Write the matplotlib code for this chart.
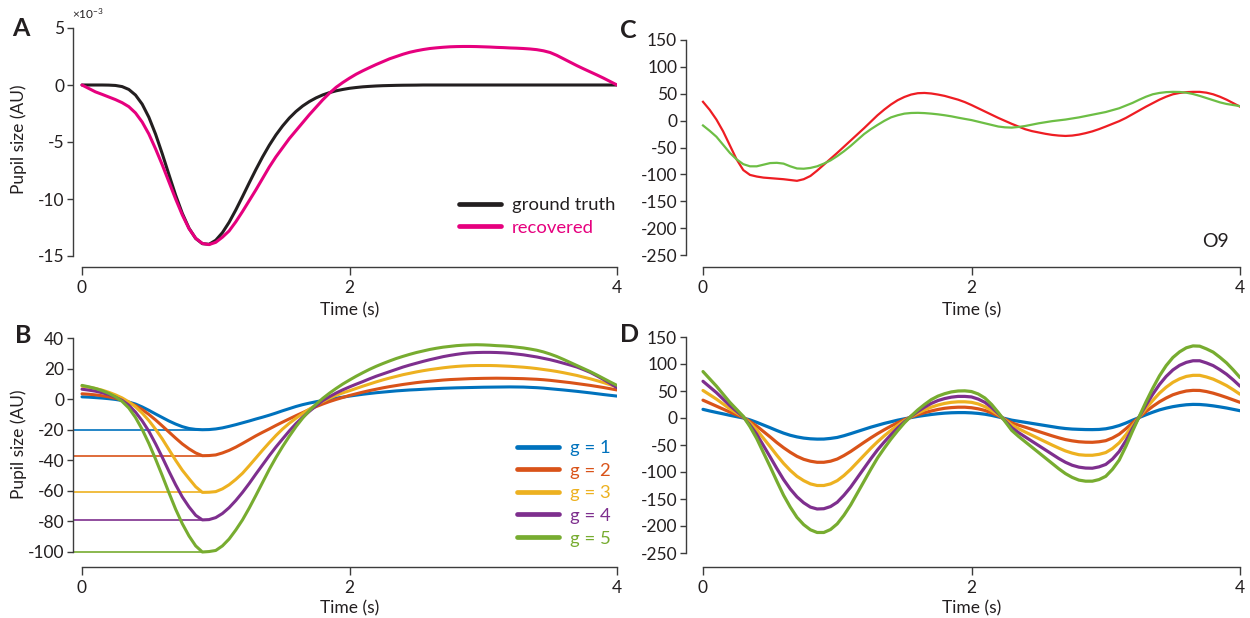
import numpy as np
import matplotlib
matplotlib.use("Agg")
import matplotlib.pyplot as plt

# ---------------------------------------------------------------- data
# common sampling grid (s), 50 ms steps
time_s = np.linspace(0, 4, 81)

# A: pupil response kernel, values in units of 1e-3 AU
ground_truth = [0, 0, 0, 0, -0.01, -0.04, -0.14, -0.39, -0.88, -1.68,
                -2.83, -4.31, -6.03, -7.86, -9.66, -11.26, -12.56, -13.46, -13.92, -13.97,
                -13.62, -12.95, -12.04, -10.96, -9.79, -8.59, -7.42, -6.31, -5.29, -4.38,
                -3.59, -2.90, -2.32, -1.84, -1.45, -1.13, -0.87, -0.67, -0.51, -0.39,
                -0.29, -0.22, -0.16, -0.12, -0.085, -0.06, -0.045, -0.03, -0.02, -0.015,
                -0.01, 0, 0, 0, 0, 0, 0, 0, 0, 0,
                0, 0, 0, 0, 0, 0, 0, 0, 0, 0,
                0, 0, 0, 0, 0, 0, 0, 0, 0, 0,
                0]
recovered = [0, -0.3, -0.6, -0.82, -1.05, -1.28, -1.55, -1.9, -2.45, -3.25,
             -4.3, -5.6, -7.0, -8.5, -10.0, -11.4, -12.6, -13.45, -13.9, -14.0,
             -13.8, -13.35, -12.8, -12.0, -11.1, -10.15, -9.2, -8.2, -7.2, -6.3,
             -5.5, -4.7, -4.0, -3.3, -2.6, -1.95, -1.3, -0.72, -0.2, 0.22,
             0.6, 0.95, 1.25, 1.53, 1.8, 2.05, 2.3, 2.5, 2.7, 2.87,
             3.0, 3.11, 3.2, 3.26, 3.31, 3.35, 3.37, 3.38, 3.38, 3.37,
             3.35, 3.33, 3.3, 3.28, 3.25, 3.23, 3.2, 3.16, 3.1, 3.0,
             2.85, 2.6, 2.3, 2.0, 1.7, 1.42, 1.15, 0.88, 0.6, 0.3,
             0.0]

# B: simulated responses for gain g = 1..5
gain_labels = ["g = 1", "g = 2", "g = 3", "g = 4", "g = 5"]
b_g1 = [1.5, 1.3, 1.0, 0.7, 0.3, -0.2, -0.9, -1.9, -3.2, -5.1,
        -7.3, -9.7, -12.0, -14.3, -16.3, -18.0, -19.2, -19.8, -20.0, -19.9,
        -19.5, -18.8, -17.8, -16.7, -15.5, -14.3, -13.0, -11.8, -10.5, -9.1,
        -7.6, -6.2, -4.8, -3.6, -2.6, -1.7, -0.9, -0.1, 0.6, 1.3,
        2.0, 2.6, 3.2, 3.7, 4.2, 4.6, 5.0, 5.4, 5.7, 6.0,
        6.2, 6.45, 6.7, 6.9, 7.1, 7.25, 7.4, 7.5, 7.6, 7.7,
        7.8, 7.85, 7.9, 7.95, 8.0, 7.95, 7.9, 7.7, 7.5, 7.2,
        6.8, 6.4, 6.0, 5.55, 5.1, 4.6, 4.1, 3.55, 3.0, 2.5,
        2.0]
b_g2 = [3.5, 3.2, 2.8, 2.2, 1.5, 0.6, -0.6, -2.2, -4.2, -6.8,
        -10.0, -13.6, -17.5, -21.5, -25.5, -29.3, -32.5, -35.2, -37.0, -36.9,
        -36.5, -35.2, -33.5, -31.4, -29.0, -26.5, -24.0, -21.7, -19.5, -17.2,
        -15.0, -12.9, -10.8, -8.8, -6.8, -4.9, -3.2, -1.6, -0.2, 1.1,
        2.4, 3.5, 4.6, 5.6, 6.5, 7.4, 8.2, 8.9, 9.6, 10.2,
        10.8, 11.3, 11.7, 12.1, 12.5, 12.8, 13.0, 13.2, 13.4, 13.5,
        13.6, 13.65, 13.7, 13.65, 13.6, 13.5, 13.4, 13.2, 13.0, 12.7,
        12.3, 11.8, 11.3, 10.8, 10.2, 9.6, 9.0, 8.3, 7.6, 6.8,
        6.0]
b_g3 = [8.5, 7.8, 7.0, 5.9, 4.5, 2.8, 0.8, -1.8, -5.0, -9.1,
        -14.0, -19.7, -26.0, -33.0, -40.0, -46.5, -52.0, -57.3, -61.0, -60.9,
        -60.5, -58.7, -56.0, -52.5, -48.5, -43.6, -38.5, -33.4, -28.5, -23.8,
        -19.5, -15.8, -12.5, -9.4, -6.5, -3.9, -1.5, 0.6, 2.5, 4.1,
        5.5, 7.0, 8.5, 9.9, 11.3, 12.6, 13.8, 14.9, 16.0, 16.9,
        17.8, 18.6, 19.3, 19.9, 20.5, 21.0, 21.4, 21.7, 21.9, 22.0,
        22.0, 22.0, 21.9, 21.7, 21.5, 21.2, 20.9, 20.5, 20.0, 19.4,
        18.8, 18.1, 17.3, 16.4, 15.5, 14.4, 13.3, 12.1, 10.8, 9.4,
        8.0]
b_g4 = [6.5, 5.9, 5.2, 4.2, 3.0, 1.3, -0.8, -4.0, -8.5, -14.2,
        -21.0, -29.2, -38.0, -47.2, -56.0, -64.0, -70.5, -76.0, -79.0, -78.8,
        -77.5, -74.8, -71.0, -66.3, -61.0, -55.2, -49.0, -43.0, -37.0, -31.3,
        -26.0, -20.8, -16.0, -11.8, -8.0, -4.4, -1.0, 1.6, 4.0, 6.1,
        8.0, 9.8, 11.5, 13.3, 15.0, 16.5, 18.0, 19.5, 21.0, 22.3,
        23.5, 24.7, 25.8, 26.8, 27.8, 28.6, 29.3, 29.9, 30.3, 30.5,
        30.6, 30.6, 30.5, 30.3, 30.0, 29.5, 29.0, 28.3, 27.6, 26.7,
        25.8, 24.7, 23.5, 22.3, 21.0, 19.3, 17.5, 15.2, 12.8, 10.2,
        7.5]
b_g5 = [9.0, 8.1, 7.0, 5.6, 3.8, 1.5, -1.5, -5.8, -12.0, -19.8,
        -29.0, -39.2, -50.0, -61.2, -72.0, -81.5, -89.5, -96.0, -100.0, -99.7,
        -99.0, -96.0, -91.5, -85.6, -79.0, -71.3, -63.0, -54.5, -46.0, -38.2,
        -31.0, -24.3, -18.0, -12.4, -7.5, -3.3, 0.5, 3.9, 7.0, 9.9,
        12.5, 15.0, 17.3, 19.5, 21.5, 23.3, 25.0, 26.6, 28.0, 29.3,
        30.5, 31.5, 32.5, 33.3, 34.0, 34.5, 35.0, 35.3, 35.5, 35.6,
        35.5, 35.3, 35.0, 34.8, 34.5, 34.0, 33.5, 32.8, 32.0, 30.9,
        29.5, 27.9, 26.0, 24.0, 22.0, 20.0, 18.0, 15.8, 13.5, 11.2,
        9.0]

# C: channel O9, two conditions
c_red = [35, 20, 2, -20, -46, -72, -92, -101, -104, -106,
         -107, -108, -109, -110.5, -112, -109, -103, -93, -82, -71,
         -60, -48.5, -37, -25.5, -14, -2, 10, 20.5, 30, 38,
         44, 48.5, 51, 51.5, 50.5, 48.5, 46, 42.5, 39, 34.5,
         29, 23, 17, 11, 5, -0.5, -6, -11, -16, -19.5,
         -22, -24.5, -26.5, -27.8, -28.5, -27.8, -26, -23.3, -20, -15.8,
         -11, -6, -1, 5, 12, 19, 26, 32.5, 39, 44.5,
         49, 51.5, 53, 53.5, 53.5, 52, 49, 44.5, 39, 32.5,
         26]
c_green = [-9, -19, -30, -45, -60, -72, -81, -85, -85, -82,
           -79, -78.5, -80, -85, -89, -89.5, -88, -85, -80, -74,
           -66, -57, -47, -36, -25, -16, -8, -0.5, 6, 10,
           13, 14.2, 14.5, 14, 13, 11.7, 10, 8, 5.5, 3.2,
           1, -2, -5, -8, -11, -12.5, -13, -11.8, -10, -7.5,
           -5, -3, -1, 0.5, 2, 4, 6, 8.5, 11, 13.5,
           16, 19.5, 23, 28, 33, 39, 44.5, 49, 51.5, 53,
           53.5, 53.3, 52, 49.5, 46, 42, 38, 34, 31, 29,
           27]

# D: responses for g = 1..5
d_g1 = [16, 13, 10.3, 7.7, 5, 2.5, 0, -3.5, -8, -13,
        -18, -23.2, -28, -32, -35, -37.2, -38.5, -39.1, -39, -37.8,
        -36, -32.8, -29, -25, -21, -17, -13.5, -10, -7, -4,
        -1.5, 0.8, 3, 4.8, 6.5, 7.9, 9, 9.7, 10, 10,
        9.5, 8.5, 7, 4.8, 2, -1, -4, -6, -8, -10,
        -12, -14, -16, -18, -19.5, -20.5, -21, -21.4, -21.5, -21.2,
        -20, -17.5, -14, -9.3, -4, 1, 6, 10.7, 15, 18.3,
        21, 23, 24.5, 25.2, 25, 24, 22.5, 20.6, 18.5, 16,
        13.5]
d_g2 = [33, 27.5, 22, 16.5, 11, 6, 1, -6.5, -15, -25,
        -35, -45.5, -55, -63.5, -71, -76.5, -80, -82, -82, -80,
        -76, -69.5, -62, -53.5, -45, -36.8, -29, -21.8, -15, -8.7,
        -3, 1.7, 6, 9.8, 13, 15.8, 18, 19.3, 20, 20,
        19, 17, 14, 9.5, 4, -2.5, -9, -13.2, -17, -21,
        -25, -29, -33, -36.7, -40, -42.3, -44, -44.8, -45, -44,
        -42, -37, -30, -20, -9, 1.5, 12, 21.5, 30, 37,
        43, 47, 50, 51.2, 51, 49, 46, 42.2, 38, 33.5,
        29]
d_g3 = [51, 43, 35, 26, 17, 9.5, 2, -9.5, -22, -37.5,
        -53, -69, -84, -97, -108, -116, -122, -125, -125, -122,
        -116, -106.5, -95, -82, -69, -56, -44, -33, -23, -13.7,
        -5, 2.3, 9, 15, 20, 24, 27, 29, 30, 30,
        29, 26, 21, 14, 6, -3.5, -13, -19.7, -26, -32,
        -38, -44, -50, -55.7, -61, -65, -68, -69, -69, -67.3,
        -64, -56.5, -46, -31, -14, 2, 18, 32.5, 46, 57,
        66, 72.5, 77, 79, 79, 76, 72, 66.3, 60, 52.3,
        44]
d_g4 = [68, 57.5, 47, 35, 23, 12.5, 2, -13, -30, -51,
        -72, -93.5, -114, -131.5, -146, -157, -165, -168.5, -168, -164,
        -156, -143, -128, -110.5, -93, -75.5, -59, -44.5, -31, -18.5,
        -7, 3, 12, 20, 27, 32.3, 36, 38.6, 40, 40,
        39, 35, 29, 19.5, 8, -5, -18, -27, -35, -43,
        -51, -59, -67, -75, -82, -87.5, -91, -92.7, -93, -90.5,
        -86, -76, -62, -42, -19, 2.5, 24, 44, 62, 77,
        89, 97.5, 103, 106, 106, 102, 97, 89.5, 81, 70.5,
        59]
d_g5 = [86, 72.5, 59, 44, 29, 16, 3, -16, -38, -64,
        -90, -117, -143, -165, -184, -197.5, -207, -212, -212, -206.5,
        -196, -180, -161, -139, -117, -95, -74, -56, -39, -23.5,
        -9, 3.5, 15, 25, 34, 40.5, 45, 48.3, 50, 50.3,
        49, 44.5, 37, 25, 10, -6.5, -23, -34, -44, -54,
        -64, -74, -84, -94, -103, -110, -115, -117, -117, -114,
        -108, -95, -78, -52.5, -24, 3, 30, 55, 78, 97,
        112, 122.5, 130, 133.5, 133, 128, 122, 112.5, 102, 89,
        75]

time_ticks = [0, 2, 4]
a_yticks = [-15, -10, -5, 0, 5]
b_yticks = [-100, -80, -60, -40, -20, 0, 20, 40]
cd_yticks = [-250, -200, -150, -100, -50, 0, 50, 100, 150]

# ---------------------------------------------------------------- style
INK = "#231F20"
SPINE = "#3C3C3C"
GAIN_COLORS = ["#0072BD", "#D95319", "#EDB120", "#7E2F8E", "#77AC30"]
GT_COLOR = "#231F20"
REC_COLOR = "#E6007E"
C_RED = "#EE1D23"
C_GREEN = "#6DBE45"

TICK_FS = 12.5
LABEL_FS = 12.5
LEGEND_FS = 13.3

plt.rcParams.update({
    "font.family": ["Lato", "DejaVu Sans"],
    "font.size": TICK_FS,
    "text.color": INK,
    "axes.labelcolor": INK,
    "xtick.color": SPINE,
    "ytick.color": SPINE,
    "xtick.labelcolor": INK,
    "ytick.labelcolor": INK,
    "axes.edgecolor": SPINE,
    "axes.linewidth": 1.0,
    "axes.unicode_minus": False,
    "mathtext.fontset": "custom",
    "mathtext.rm": "Lato",
    "mathtext.it": "Lato:italic",
    "mathtext.bf": "Lato:bold",
})

W, H = 1250, 618
fig = plt.figure(figsize=(W / 100, H / 100), dpi=100)


def add_panel(left, top, right, bottom):
    """Axes placed by pixel edges (origin at top-left of the figure)."""
    return fig.add_axes([left / W, 1 - bottom / H, (right - left) / W, (bottom - top) / H])


def frame(ax, xr, yr, yticks, gap_x, gap_y):
    """Detached spines: leave gap_x / gap_y pixels between the data range and the axis lines."""
    w_px, h_px = ax.bbox.width, ax.bbox.height
    sx = (xr[1] - xr[0]) / (1 - gap_x / w_px)
    sy = (yr[1] - yr[0]) / (1 - gap_y / h_px)
    ax.set_xlim(xr[1] - sx, xr[1])
    ax.set_ylim(yr[1] - sy, yr[1])
    ax.spines[["top", "right"]].set_visible(False)
    ax.spines["bottom"].set_bounds(*xr)
    ax.spines["left"].set_bounds(*yr)
    ax.set_xticks(time_ticks)
    ax.set_yticks(yticks)
    ax.tick_params(axis="x", direction="out", length=5.5, width=1.0, pad=4, labelsize=TICK_FS)
    ax.tick_params(axis="y", direction="out", length=4.3, width=1.0, pad=2, labelsize=TICK_FS)
    ax.patch.set_visible(False)


def xlabel_at(ax, x_px, top_px):
    ax.set_xlabel("Time (s)", fontsize=LABEL_FS)
    ax.xaxis.set_label_coords(x_px / W, 1 - top_px / H, transform=fig.transFigure)


def ylabel_at(ax, right_px, mid_px):
    ax.set_ylabel("Pupil size (AU)", fontsize=LABEL_FS)
    ax.yaxis.set_label_coords(right_px / W, 1 - mid_px / H, transform=fig.transFigure)


def legend_at(ax, handles, labels, left_px, top_px):
    leg = ax.legend(handles, labels, loc="upper left",
                    bbox_to_anchor=(left_px / W, 1 - top_px / H),
                    bbox_transform=fig.transFigure, frameon=False,
                    handlelength=2.3, handletextpad=0.55, labelspacing=0.36,
                    borderpad=0, borderaxespad=0, fontsize=LEGEND_FS,
                    labelcolor="linecolor")
    for h in leg.legend_handles:
        h.set_linewidth(3.4)
        h.set_solid_capstyle("round")
    return leg


# ---------------------------------------------------------------- panel A
axA = add_panel(73, 28, 617, 267)
frame(axA, (0, 4), (-15, 5), a_yticks, 9, 11)
lA1, = axA.plot(time_s, ground_truth, color=GT_COLOR, lw=2.2, solid_capstyle="round")
lA2, = axA.plot(time_s, recovered, color=REC_COLOR, lw=2.2, solid_capstyle="round")
legend_at(axA, [lA1, lA2], ["ground truth", "recovered"], 459, 197)
ylabel_at(axA, 27, 139)
xlabel_at(axA, 350, 302)
fig.text(72 / W, 1 - 19 / H, r"$\times10^{-3}$", fontsize=8.5, ha="left", va="baseline")

# ---------------------------------------------------------------- panel B
axB = add_panel(73, 338, 617, 567)
frame(axB, (0, 4), (-100, 40), b_yticks, 9, 15)
x0B = axB.get_xlim()[0]
b_lines = []
for vals, col in zip([b_g1, b_g2, b_g3, b_g4, b_g5], GAIN_COLORS):
    vals = np.asarray(vals)
    i_min = int(np.argmin(vals))
    axB.hlines(vals[i_min], x0B, time_s[i_min], color=col, lw=1.2)
    ln, = axB.plot(time_s, vals, color=col, lw=2.2, solid_capstyle="round")
    b_lines.append(ln)
legend_at(axB, b_lines, gain_labels, 517, 440)
ylabel_at(axB, 27, 444)
xlabel_at(axB, 350, 600)

# ---------------------------------------------------------------- panel C
axC = add_panel(686, 40, 1240, 267)
frame(axC, (0, 4), (-250, 150), cd_yticks, 17, 12)
axC.plot(time_s, c_red, color=C_RED, lw=1.6)
axC.plot(time_s, c_green, color=C_GREEN, lw=1.6)
xlabel_at(axC, 972, 302)
fig.text(1229 / W, 1 - 247 / H, "O9", fontsize=14, ha="right", va="baseline")

# ---------------------------------------------------------------- panel D
axD = add_panel(686, 337, 1240, 567)
frame(axD, (0, 4), (-250, 150), cd_yticks, 17, 14)
for vals, col in zip([d_g1, d_g2, d_g3, d_g4, d_g5], GAIN_COLORS):
    axD.plot(time_s, vals, color=col, lw=2.3, solid_capstyle="round")
xlabel_at(axD, 972, 600)

# ---------------------------------------------------------------- panel letters
for letter, x_px, y_px in [("A", 12, 36), ("B", 15, 343), ("C", 620, 38), ("D", 620, 342)]:
    fig.text(x_px / W, 1 - y_px / H, letter, fontsize=18, fontweight="bold",
             ha="left", va="baseline")

fig.savefig("out.png", dpi=100)
